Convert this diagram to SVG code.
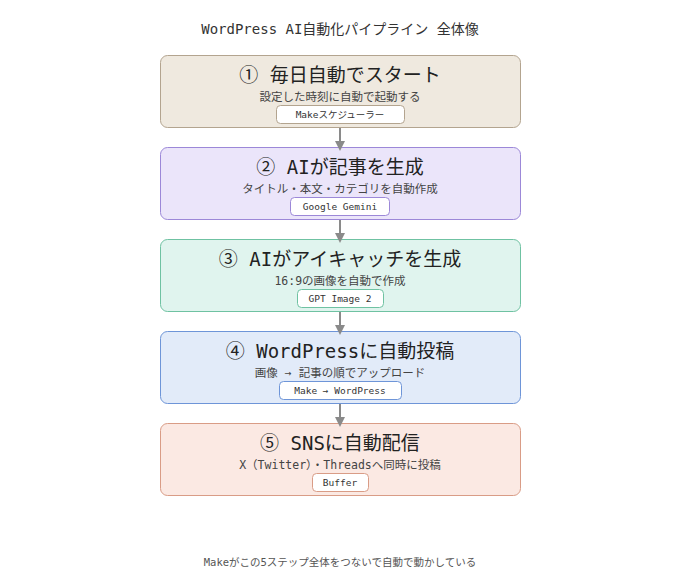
<svg xmlns="http://www.w3.org/2000/svg" width="680" height="580" viewBox="0 0 680 580">
<style>
text{font-family:"DejaVu Sans Mono","Noto Sans CJK JP",monospace;text-anchor:middle}
.t{font-size:14px;fill:#333}
.h{font-size:19px;fill:#222}
.s{font-size:11.5px;fill:#444}
.p{font-size:9.5px;fill:#333}
.pill{fill:#fff;stroke-width:1}
.box{stroke-width:1}
.f{font-size:10.5px;fill:#555}
</style>
<defs><marker id="a" viewBox="0 0 10 10" refX="5" refY="5" markerWidth="16" markerHeight="10" markerUnits="userSpaceOnUse" orient="auto"><path d="M0,0L10,5L0,10z" fill="#8a8a8a"/></marker></defs>
<rect width="680" height="580" fill="#fff"/>
<text class="t" x="340" y="34">WordPress AI自動化パイプライン 全体像</text>
<g id="n1"><rect class="box" x="160.5" y="55.5" width="360" height="72" rx="7" fill="#efe9df" stroke="#b3a48f"/>
<text class="h" x="340" y="82">① 毎日自動でスタート</text><text class="s" x="340" y="101">設定した時刻に自動で起動する</text>
<rect class="pill" x="276.5" y="105.5" width="128" height="18" rx="4" stroke="#b3a48f"/><text class="p" x="340" y="118">Makeスケジューラー</text></g>
<g id="n2"><rect class="box" x="160.5" y="147.5" width="360" height="72" rx="7" fill="#ebe5fa" stroke="#9c88d8"/>
<text class="h" x="340" y="174">② AIが記事を生成</text><text class="s" x="340" y="193">タイトル・本文・カテゴリを自動作成</text>
<rect class="pill" x="290.5" y="197.5" width="99" height="18" rx="4" stroke="#9c88d8"/><text class="p" x="340" y="210">Google Gemini</text></g>
<g id="n3"><rect class="box" x="160.5" y="239.5" width="360" height="72" rx="7" fill="#e0f4ee" stroke="#6fc2a2"/>
<text class="h" x="340" y="266">③ AIがアイキャッチを生成</text><text class="s" x="340" y="285">16:9の画像を自動で作成</text>
<rect class="pill" x="297.5" y="289.5" width="86" height="18" rx="4" stroke="#6fc2a2"/><text class="p" x="340" y="302">GPT Image 2</text></g>
<g id="n4"><rect class="box" x="160.5" y="331.5" width="360" height="72" rx="7" fill="#e2ebf9" stroke="#6e95d8"/>
<text class="h" x="340" y="358">④ WordPressに自動投稿</text><text class="s" x="340" y="377">画像 → 記事の順でアップロード</text>
<rect class="pill" x="279.5" y="381.5" width="122" height="18" rx="4" stroke="#6e95d8"/><text class="p" x="340" y="394">Make → WordPress</text></g>
<g id="n5"><rect class="box" x="160.5" y="423.5" width="360" height="72" rx="7" fill="#fbe9e3" stroke="#d99c86"/>
<text class="h" x="340" y="450">⑤ SNSに自動配信</text><text class="s" x="340" y="469">X（Twitter）・Threadsへ同時に投稿</text>
<rect class="pill" x="312.5" y="473.5" width="56" height="18" rx="4" stroke="#d99c86"/><text class="p" x="340" y="486">Buffer</text></g>
<g id="edges" stroke="#8a8a8a" stroke-width="2">
<line x1="340" y1="128" x2="340" y2="146" marker-end="url(#a)"/>
<line x1="340" y1="220" x2="340" y2="238" marker-end="url(#a)"/>
<line x1="340" y1="312" x2="340" y2="330" marker-end="url(#a)"/>
<line x1="340" y1="404" x2="340" y2="422" marker-end="url(#a)"/>
</g>
<text class="f" x="340" y="566">Makeがこの5ステップ全体をつないで自動で動かしている</text>
</svg>
